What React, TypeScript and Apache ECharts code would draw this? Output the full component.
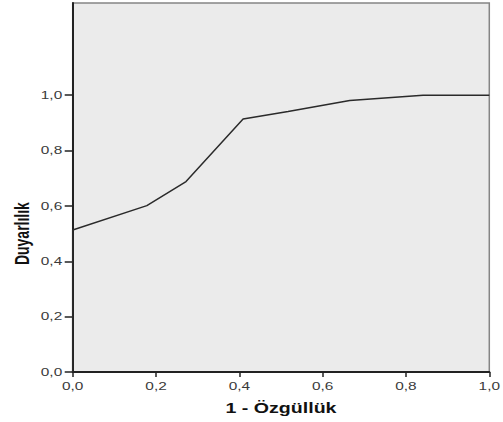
import React, { useEffect, useRef } from "react";
import * as echarts from "echarts";

const fpr = [0, 0, 0.178, 0.272, 0.409, 0.517, 0.665, 0.841, 1.0];
const tpr = [0, 0.513, 0.601, 0.688, 0.914, 0.941, 0.981, 1.0, 1.0];
const yTicks = [0, 0.2, 0.4, 0.6, 0.8, 1.0];
const xTicks = [0, 0.2, 0.4, 0.6, 0.8, 1.0];
const xTitle = "1 - Özgüllük";
const yTitle = "Duyarlılık";

const fmt = (v: number) => v.toFixed(1).replace(".", ",");
const labelFont = "11px 'Liberation Sans', Arial, sans-serif";
const titleFont = "bold 14px 'Liberation Sans', Arial, sans-serif";
const STRETCH = 1.4;

export default function App() {
  const ref = useRef<HTMLDivElement>(null);
  useEffect(() => {
    if (!ref.current) return;
    const chart = echarts.init(ref.current, null, { renderer: "svg" });
    chart.setOption({
      animation: false,
      grid: {
        left: 72.7,
        right: 13.7,
        top: 3,
        bottom: 50,
        show: true,
        backgroundColor: "#ebebeb",
        borderColor: "#858585",
        borderWidth: 1.5,
      },
      xAxis: {
        type: "value",
        min: 0,
        max: 1,
        interval: 0.2,
        axisLine: { show: true, lineStyle: { color: "#222", width: 2 } },
        axisTick: {
          show: true,
          inside: false,
          length: 5,
          customValues: xTicks,
          lineStyle: { color: "#222", width: 1.5 },
        },
        axisLabel: { show: false },
        splitLine: { show: false },
      },
      yAxis: {
        type: "value",
        min: 0,
        max: 1.333,
        interval: 0.2,
        axisLine: { show: true, lineStyle: { color: "#222", width: 2 } },
        axisTick: {
          show: true,
          inside: false,
          length: 8,
          customValues: yTicks,
          lineStyle: { color: "#222", width: 1.5 },
        },
        axisLabel: { show: false },
        splitLine: { show: false },
      },
      series: [
        {
          type: "line",
          data: fpr.map((x, i) => [x, tpr[i]]),
          symbol: "none",
          lineStyle: { color: "#2a2a2a", width: 1.5 },
          clip: false,
          z: 1,
        },
      ],
    });

    const graphics: any[] = [];
    xTicks.forEach((v) => {
      const p = chart.convertToPixel({ gridIndex: 0 }, [v, 0]) as number[];
      graphics.push({
        type: "text",
        x: p[0],
        y: p[1] + 14,
        scaleX: STRETCH,
        style: { text: fmt(v), font: labelFont, fill: "#3a3a3a", align: "center", verticalAlign: "middle" },
      });
    });
    yTicks.forEach((v) => {
      const p = chart.convertToPixel({ gridIndex: 0 }, [0, v]) as number[];
      graphics.push({
        type: "text",
        x: p[0] - 10.5,
        y: p[1],
        scaleX: STRETCH,
        style: { text: fmt(v), font: labelFont, fill: "#3a3a3a", align: "right", verticalAlign: "middle" },
      });
    });
    const xMid = chart.convertToPixel({ gridIndex: 0 }, [0.5, 0]) as number[];
    graphics.push({
      type: "text",
      x: xMid[0],
      y: xMid[1] + 36,
      scaleX: STRETCH,
      style: { text: xTitle, font: titleFont, fill: "#111", align: "center", verticalAlign: "middle" },
    });
    const yMid = chart.convertToPixel({ gridIndex: 0 }, [0, 0.5]) as number[];
    graphics.push({
      type: "text",
      x: 23,
      y: yMid[1],
      rotation: Math.PI / 2,
      scaleY: STRETCH,
      style: { text: yTitle, font: titleFont, fill: "#111", align: "center", verticalAlign: "middle" },
    });
    chart.setOption({ graphic: graphics });

    return () => chart.dispose();
  }, []);
  return (
    <div
      ref={ref}
      style={{ position: "fixed", left: 0, top: 0, width: 503, height: 422, background: "#fff" }}
    />
  );
}
